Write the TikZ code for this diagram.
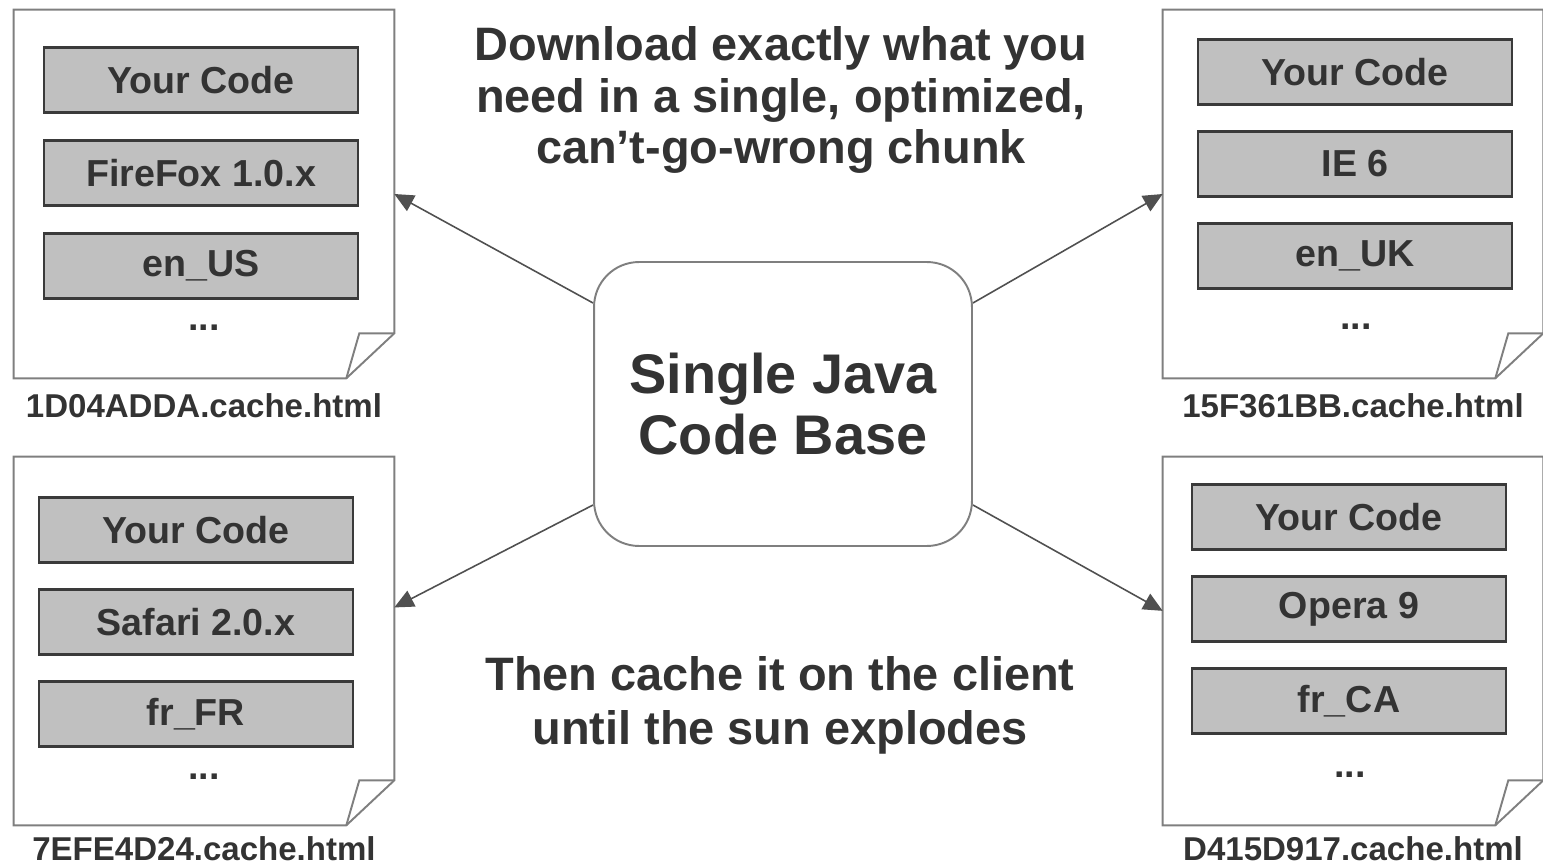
\documentclass[tikz,border=0pt]{standalone}
\usepackage{fontspec}
\setmainfont{Liberation Sans}
\usepackage{tikz}
\usetikzlibrary{calc,positioning,arrows.meta}
\definecolor{ink}{HTML}{333333}
\definecolor{rim}{HTML}{7F7F7F}
\definecolor{edge}{HTML}{3A3A3A}
\definecolor{boxgray}{HTML}{C0C0C0}
\definecolor{wire}{HTML}{505050}
\begin{document}
\begin{tikzpicture}[x=0.02cm, y=-0.02cm, >={Triangle[length=11pt,width=10pt]},
    page/.style={minimum width=7.6cm,minimum height=7.36cm,inner sep=0pt},
    rim/.style={draw=rim,line width=1.1pt},
    chunk/.style={draw=edge,fill=boxgray,line width=1.4pt,minimum width=6.28cm,minimum height=1.3cm,inner sep=0pt,text=ink,font=\bfseries\fontsize{21.4}{24}\selectfont},
    dots/.style={inner sep=0pt,text=ink,font=\bfseries\fontsize{21.4}{24}\selectfont},
    hub/.style={draw=rim,line width=1.1pt,rounded corners=0.9cm,minimum width=7.56cm,minimum height=5.68cm,align=center,text=ink,font=\bfseries\fontsize{31.8}{34.6}\selectfont},
    note/.style={align=center,inner sep=0pt,text=ink},
    tag/.style={inner sep=0pt,text=ink,font=\bfseries\fontsize{18.8}{20}\selectfont},
    link/.style={->,draw=wire,line width=0.9pt}]
              \useasboundingbox (0,0) rectangle (1543,865);

              \node[page] (pa) at (204,194) {};
              \node[page] (pb) at (1353,194) {};
              \node[page] (pc) at (204,641) {};
              \node[page] (pd) at (1353,641) {};

              \node[tag,below=8.5pt of pa] (na) {1D04ADDA.cache.html};
              \node[tag,below=8.5pt of pb] (nb) {15F361BB.cache.html};
              \node[tag,below=6pt of pc] (nc) {7EFE4D24.cache.html};
              \node[tag,below=6pt of pd] (nd) {D415D917.cache.html};

              \draw[rim] (pa.north west) -- (pa.north east) -- ($(pa.south east)+(0,-45)$) -- ($(pa.south east)+(-48,0)$) -- (pa.south west) -- cycle;
              \draw[rim] ($(pa.south east)+(-48,0)$) -- ($(pa.south east)+(-35,-45)$) -- ($(pa.south east)+(0,-45)$);
              \draw[rim] (pb.north west) -- (pb.north east) -- ($(pb.south east)+(0,-45)$) -- ($(pb.south east)+(-48,0)$) -- (pb.south west) -- cycle;
              \draw[rim] ($(pb.south east)+(-48,0)$) -- ($(pb.south east)+(-35,-45)$) -- ($(pb.south east)+(0,-45)$);
              \draw[rim] (pc.north west) -- (pc.north east) -- ($(pc.south east)+(0,-45)$) -- ($(pc.south east)+(-48,0)$) -- (pc.south west) -- cycle;
              \draw[rim] ($(pc.south east)+(-48,0)$) -- ($(pc.south east)+(-35,-45)$) -- ($(pc.south east)+(0,-45)$);
              \draw[rim] (pd.north west) -- (pd.north east) -- ($(pd.south east)+(0,-45)$) -- ($(pd.south east)+(-48,0)$) -- (pd.south west) -- cycle;
              \draw[rim] ($(pd.south east)+(-48,0)$) -- ($(pd.south east)+(-35,-45)$) -- ($(pd.south east)+(0,-45)$);

              \node[chunk] (a1) at (201,80) {Your Code};
              \node[chunk] (a2) at (201,173) {FireFox 1.0.x};
              \node[chunk] (a3) at (201,266) {en\_US};
              \node[dots] (a4) at (204,328) {...};

              \node[chunk] (b1) at (1355,72) {Your Code};
              \node[chunk] (b2) at (1355,164) {IE 6};
              \node[chunk] (b3) at (1355,256) {en\_UK};
              \node[dots] (b4) at (1356,327) {...};

              \node[chunk] (c1) at (196,530) {Your Code};
              \node[chunk] (c2) at (196,622) {Safari 2.0.x};
              \node[chunk] (c3) at (196,714) {fr\_FR};
              \node[dots] (c4) at (204,777) {...};

              \node[chunk] (d1) at (1349,517) {Your Code};
              \node[chunk] (d2) at (1349,609) {Opera 9};
              \node[chunk] (d3) at (1349,701) {fr\_CA};
              \node[dots] (d4) at (1350,775) {...};

              \node[hub] (java) at (783,404) {Single Java\\Code Base};

              \draw[link] (java.152) -- (pa.east);
              \draw[link] (java.28) -- (pb.west);
              \draw[link] (java.208) -- (pc.10);
              \draw[link] (java.332) -- (pd.171);

              \node[note,font=\bfseries\fontsize{26.7}{29.2}\selectfont] (top) at (781,100) {Download exactly what you\\need in a single, optimized,\\can't-go-wrong chunk};
              \node[note,font=\bfseries\fontsize{26.7}{30.6}\selectfont] (bottom) at (780,705) {Then cache it on the client\\until the sun explodes};
            \end{tikzpicture}
\end{document}
